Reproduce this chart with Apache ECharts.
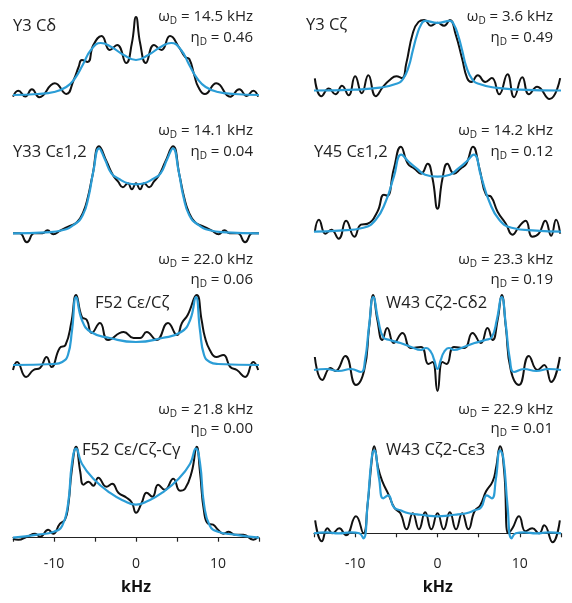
<!DOCTYPE html>
<html><head><meta charset="utf-8">
<script src="https://cdn.jsdelivr.net/npm/echarts@6/dist/echarts.min.js"></script>
<style>html,body{margin:0;padding:0;background:#fff}#c{width:572px;height:603px}</style>
</head><body><div id="c"></div>
<script>
// ---------- data (x in kHz, y = intensity in arbitrary units) ----------
const tickValues = [-15, -10, -5, 0, 5, 10, 15];
const tickLabels = ['-10', '0', '10'];
const panelNames = ['Y3 Cδ', 'Y3 Cζ', 'Y33 Cε1,2', 'Y45 Cε1,2', 'F52 Cε/Cζ', 'W43 Cζ2-Cδ2', 'F52 Cε/Cζ-Cγ', 'W43 Cζ2-Cε3'];
const omegaD = ['14.5', '3.6', '14.1', '14.2', '22.0', '23.3', '21.8', '22.9'];
const etaD = ['0.46', '0.49', '0.04', '0.12', '0.06', '0.19', '0.00', '0.01'];

const y3cdExpX = [-15, -14.35, -13.5, -12.7, -11.8, -9.9, -8.5, -7.6, -7.0, -6.6, -5.9, -5.2, -4.2, -3.2, -2.3, -1.2, -0.5, 0, 0.5, 1.2, 2.2, 3.1, 4.15, 5.3, 6.0, 6.5, 7.1, 7.6, 8.4, 9.8, 11.5, 12.6, 13.5, 14.3, 14.9];
const y3cdExpY = [-1.7, 4.3, -1.5, 5.7, -2.3, 11.7, 1, 15, 28, 35, 33, 50, 59, 45, 50, 32, 52, 78, 52, 32, 50, 45, 59, 47, 38, 36, 20, 8, 1, 11.7, -1.7, 5.7, -1, 4.3, -1.7];
const y3cdFitX = [-15, -12, -10, -8.5, -7.5, -6.5, -5.5, -4.3, -3, -1.5, 0, 1.5, 3, 4.3, 5.5, 6.5, 7.5, 8.5, 10, 12, 15];
const y3cdFitY = [0, 1, 3, 8, 16, 30, 45, 52, 48, 40, 35, 40, 48, 52, 45, 30, 16, 8, 3, 1, 0];

const y3czExpX = [-14.9, -14.1, -13.2, -12.4, -11.6, -10.8, -10.0, -9.2, -8.4, -7.5, -6.6, -5.8, -5.0, -4.3, -3.8, -3.0, -2.3, -1.6, -0.8, 0, 0.8, 1.5, 2.2, 3.0, 3.6, 4.1, 4.9, 5.8, 6.6, 7.5, 8.5, 9.3, 10.3, 11.1, 12.1, 13.6, 14.9];
const y3czExpY = [12.7, -6, 2, -4, 5, -5, 15, -3, 16, -6, 4, 11, 15, 13, 28, 60, 72, 74, 68, 71, 68, 74, 59, 33, 13, 9, 16, 9, 13, -4, 17, -7, 14, -4, 4, -9, 13];
const y3czFitX = [-15, -10, -7, -5, -4.2, -3.5, -3.0, -2.5, -2.0, -1.5, 0, 1.5, 2.0, 2.5, 3.0, 3.5, 4.2, 5, 7, 10, 15];
const y3czFitY = [0, 1, 3, 7, 12, 25, 42, 58, 69, 73, 71, 73, 69, 58, 42, 25, 12, 7, 3, 1, 0];

const y33ExpX = [-15, -14.2, -13.3, -12.4, -11.4, -10.8, -10.1, -9.2, -8.2, -7.2, -6.4, -5.9, -5.3, -4.5, -3.6, -2.8, -2.2, -1.6, -1.0, -0.5, 0, 0.5, 1.0, 1.6, 2.2, 2.8, 3.6, 4.5, 5.3, 5.9, 6.4, 7.2, 8.2, 9.2, 10.1, 10.8, 11.4, 12.4, 13.3, 14.2, 15];
const y33ExpY = [0, 0, -9, 0, 0, 3, -1, 3, 7, 11, 22, 35, 58, 87, 72, 58, 52, 46, 50, 44, 50, 44, 50, 46, 52, 58, 72, 87, 58, 35, 22, 11, 7, 3, -1, 3, 0, 0, -9, 0, 0];
const y33FitX = [-15, -11, -9, -7.5, -6.5, -5.8, -5.2, -4.5, -3.8, -3, -2, -1, 0, 1, 2, 3, 3.8, 4.5, 5.2, 5.8, 6.5, 7.5, 9, 11, 15];
const y33FitY = [0, 1, 3, 9, 18, 36, 62, 85, 74, 60, 54, 50, 49, 50, 54, 60, 74, 85, 62, 36, 18, 9, 3, 1, 0];

const y45ExpX = [-14.9, -14.4, -13.6, -12.9, -12.0, -11.1, -10.1, -9.3, -8.5, -7.3, -6.5, -6.1, -5.3, -4.45, -3.6, -2.8, -2.0, -1.2, -0.6, 0, 0.6, 1.2, 2.0, 2.8, 3.5, 4.3, 5.1, 5.9, 6.5, 7.3, 8.3, 9.1, 9.9, 10.7, 11.5, 12.3, 13.1, 13.8, 14.4, 14.9];
const y45ExpY = [0, 12, -2, 2, -7, 11, -5, 7, 8, 20, 37, 36, 63, 85, 68, 63, 58, 68, 53, 23, 53, 68, 58, 63, 68, 85, 63, 37, 35, 20, 8, -3, 5, 11, -5, -2, 11, -4, 12, -2];
const y45FitX = [-15, -12, -9, -7.5, -6.3, -5.3, -4.4, -3.5, -2.5, -1.5, 0, 1.5, 2.5, 3.5, 4.4, 5.3, 6.3, 7.5, 9, 12, 15];
const y45FitY = [0, 1, 4, 12, 30, 55, 77, 70, 63, 57, 55, 57, 63, 70, 77, 55, 30, 12, 4, 1, 0];

const f52aExpX = [-15, -14.5, -13.4, -12.5, -11.7, -10.9, -10.3, -9.3, -8.6, -7.9, -7.3, -6.6, -6.0, -5.4, -4.4, -3.4, -1.5, -0.3, 0.5, 1.3, 2.5, 3.9, 5.0, 5.6, 6.3, 7.4, 8.0, 8.4, 9.0, 9.8, 10.65, 11.5, 12.3, 13.3, 14.3, 14.9];
const f52aExpY = [-5, 3, -12, -5, -3, 8, -2, 17, 20, 42, 70, 48, 45, 32, 42, 25, 33, 27, 27, 33, 25, 42, 30, 42, 50, 70, 45, 28, 15, 8, 10, -2, -5, -12, 3, -5];
const f52aFitX = [-15, -10, -9, -8.3, -7.8, -7.3, -6.6, -5.5, -3.2, 0, 3.2, 5.5, 6.6, 7.3, 7.8, 8.3, 9, 10, 15];
const f52aFitY = [0, 1, 3, 10, 35, 68, 45, 33, 27, 23, 27, 33, 45, 68, 35, 10, 3, 1, 0];

const w43aExpX = [-14.9, -14.0, -13.0, -12.4, -11.2, -9.9, -8.9, -8.3, -7.8, -7.3, -6.7, -6.1, -5.3, -4.25, -3.24, -2.0, -1.1, -0.6, 0, 0.6, 1.1, 2.0, 3.24, 4.25, 5.26, 6.07, 6.7, 7.3, 7.8, 8.3, 8.9, 9.9, 11.1, 12.15, 12.96, 13.8, 14.86];
const w43aExpY = [13, -10, 2, -1, 14, -15, 0, 43, 75, 50, 30, 42, 27, 37, 22, 23, 6, 8, -21, 8, 6, 23, 22, 37, 27, 42, 30, 50, 75, 43, 0, -15, 14, 0, 5, -12, 13];
const w43aFitX = [-15, -13.5, -12, -10.5, -9.3, -8.8, -8.3, -7.8, -7.2, -6.6, -5.8, -4.5, -3.2, -2.0, -1.4, -0.8, -0.4, 0, 0.4, 0.8, 1.4, 2.0, 3.2, 4.5, 5.8, 6.6, 7.2, 7.8, 8.3, 8.8, 9.3, 10.5, 12, 13.5, 15];
const w43aFitY = [0, 1, -1, 1, -2, 10, 45, 73, 50, 33, 30, 27, 23, 20, 22, 18, 10, 1, 10, 18, 22, 20, 23, 27, 30, 33, 50, 73, 45, 10, -2, 1, -1, 1, 0];

const f52bExpX = [-15, -14.35, -13.3, -12.3, -11.7, -10.7, -10.1, -9.27, -8.66, -8.25, -7.85, -7.3, -6.8, -6.4, -5.8, -5.2, -4.6, -3.6, -2.9, -2.15, -1.14, -0.5, 0, 0.7, 1.3, 2.0, 2.7, 3.5, 4.55, 5.37, 5.98, 6.8, 7.4, 7.8, 8.3, 8.8, 9.4, 10.0, 10.65, 11.3, 12.07, 13.1, 14.3, 14.9];
const f52bExpY = [-1, -2, 1, 4, 1, 8, 4, 14, 18, 33, 66, 91, 66, 53, 56, 52, 60, 51, 54, 45, 40, 35, 25, 35, 45, 41, 53, 48, 59, 47, 49, 66, 91, 66, 26, 14, 13, 8, 4, 6, 3, 3, -2, 1];
const f52bFitX = [-15, -12, -10, -9, -8.3, -7.8, -7.3, -6.6, -5.2, -3.2, -1.5, 0, 1.5, 3.2, 5.2, 6.6, 7.3, 7.8, 8.3, 9, 10, 12, 15];
const f52bFitY = [0, 3, 6, 12, 33, 75, 89, 74, 59, 45, 37, 33, 37, 45, 59, 74, 89, 75, 33, 12, 6, 3, 0];

const w43bExpX = [-14.86, -14.05, -13.36, -12.75, -11.94, -11.13, -9.9, -9.0, -8.5, -8.0, -7.7, -7.2, -6.7, -5.9, -5.2, -4.5, -3.75, -3.0, -2.25, -1.5, -0.75, 0, 0.75, 1.5, 2.25, 3.0, 3.75, 4.5, 5.2, 5.9, 6.7, 7.1, 7.6, 8.1, 8.6, 9.1, 9.9, 10.7, 11.5, 12.35, 12.96, 13.97, 14.86];
const w43bExpY = [13, -8, 5, 0, 5, -2, 17, 0, 28, 72, 87, 65, 52, 38, 25, 20, 4, 20, 4, 21, 4, 20, 4, 21, 4, 20, 4, 22, 28, 42, 52, 65, 87, 62, 0, 5, 17, 2, 5, 0, 8, -9, 13];
const w43bFitX = [-15, -13.5, -12, -10.5, -9.5, -9.0, -8.5, -8.0, -7.7, -7.1, -6.6, -6.0, -5.3, -4.5, -3.5, -2.5, -1.5, 0, 1.5, 2.5, 3.5, 4.5, 5.3, 6.0, 6.6, 7.1, 7.6, 8.0, 8.5, 9.0, 9.5, 10.5, 12, 13.5, 15];
const w43bFitY = [0, 1, 0, 1, 0, -5, 28, 75, 83, 55, 35, 38, 26, 23, 20, 19, 18, 17, 18, 19, 20, 23, 26, 38, 35, 55, 83, 75, 28, -5, 0, 1, 0, 1, 0];

// ---------- layout ----------
const expX = [y3cdExpX, y3czExpX, y33ExpX, y45ExpX, f52aExpX, w43aExpX, f52bExpX, w43bExpX];
const expY = [y3cdExpY, y3czExpY, y33ExpY, y45ExpY, f52aExpY, w43aExpY, f52bExpY, w43bExpY];
const fitX = [y3cdFitX, y3czFitX, y33FitX, y45FitX, f52aFitX, w43aFitX, f52bFitX, w43bFitX];
const fitY = [y3cdFitY, y3czFitY, y33FitY, y45FitY, f52aFitY, w43aFitY, f52bFitY, w43bFitY];

const colLeft = [13, 314];
const colWidth = [246, 247];
const baselines = [95, 89.3, 233.3, 231.7, 365, 370, 537.7, 533.3];
const axisY = 550;
const omegaRowY = [17, 131, 260, 410];
const etaRowY = [38, 152, 280, 429];
const labelRight = [253, 553];
const namePos = [[13, 26], [306, 25], [13, 152], [314, 152], [95, 303], [386, 303], [82, 450], [386, 450]];

const BLACK = '#111';
const BLUE = '#2b9dd6';
const FONT = '"Open Sans", "DejaVu Sans", sans-serif';

const grids = [], xAxes = [], yAxes = [], series = [], graphics = [];
for (let i = 0; i < 8; i++) {
  const col = i % 2, row = Math.floor(i / 2);
  const base = baselines[i];
  const top = base - 95;
  const bottom = row === 3 ? axisY : base + 25;
  grids.push({ left: colLeft[col], width: colWidth[col], top: top, height: bottom - top });
  xAxes.push({
    gridIndex: i, type: 'value', min: -15, max: 15, interval: 5,
    show: row === 3,
    axisLine: { show: true, lineStyle: { color: '#222', width: 1.2 } },
    axisTick: { show: true, length: 4, lineStyle: { color: '#222', width: 1.2 } },
    splitLine: { show: false },
    axisLabel: {
      show: true, margin: 7, fontSize: 14, color: '#222', fontFamily: FONT,
      formatter: v => tickLabels.indexOf(String(v)) >= 0 ? String(v) : ''
    }
  });
  yAxes.push({ gridIndex: i, type: 'value', min: -(bottom - base), max: base - top, show: false, splitLine: { show: false } });
  const ed = expX[i].map((x, k) => [x, expY[i][k]]);
  const fd = fitX[i].map((x, k) => [x, fitY[i][k]]);
  series.push({ type: 'line', xAxisIndex: i, yAxisIndex: i, data: ed, smooth: 0.5, showSymbol: false, lineStyle: { color: BLACK, width: 2 }, z: 2 });
  series.push({ type: 'line', xAxisIndex: i, yAxisIndex: i, data: fd, smooth: 0.5, showSymbol: false, lineStyle: { color: BLUE, width: 2.2 }, z: 3 });

  graphics.push({ type: 'text', x: namePos[i][0], y: namePos[i][1], style: { text: panelNames[i], textAlign: 'left', textVerticalAlign: 'middle', font: '16.5px ' + FONT, fill: '#222' } });
  const rich = { g: { fontSize: 15, fontFamily: FONT, fill: '#222', lineHeight: 18 }, s: { fontSize: 10, fontFamily: FONT, fill: '#222', verticalAlign: 'bottom', lineHeight: 14 } };
  graphics.push({ type: 'text', x: labelRight[col], y: omegaRowY[row], style: { text: '{g|ω}{s|D}{g| = ' + omegaD[i] + ' kHz}', rich: rich, textAlign: 'right', textVerticalAlign: 'middle' } });
  graphics.push({ type: 'text', x: labelRight[col], y: etaRowY[row], style: { text: '{g|η}{s|D}{g| = ' + etaD[i] + '}', rich: rich, textAlign: 'right', textVerticalAlign: 'middle' } });
}
graphics.push({ type: 'text', x: 136, y: 587, style: { text: 'kHz', textAlign: 'center', textVerticalAlign: 'middle', font: 'bold 16px ' + FONT, fill: '#111' } });
graphics.push({ type: 'text', x: 437.7, y: 587, style: { text: 'kHz', textAlign: 'center', textVerticalAlign: 'middle', font: 'bold 16px ' + FONT, fill: '#111' } });

const chart = echarts.init(document.getElementById('c'), null, { renderer: 'canvas' });
chart.setOption({ animation: false, backgroundColor: '#fff', grid: grids, xAxis: xAxes, yAxis: yAxes, series: series, graphic: graphics });
</script>
</body></html>
